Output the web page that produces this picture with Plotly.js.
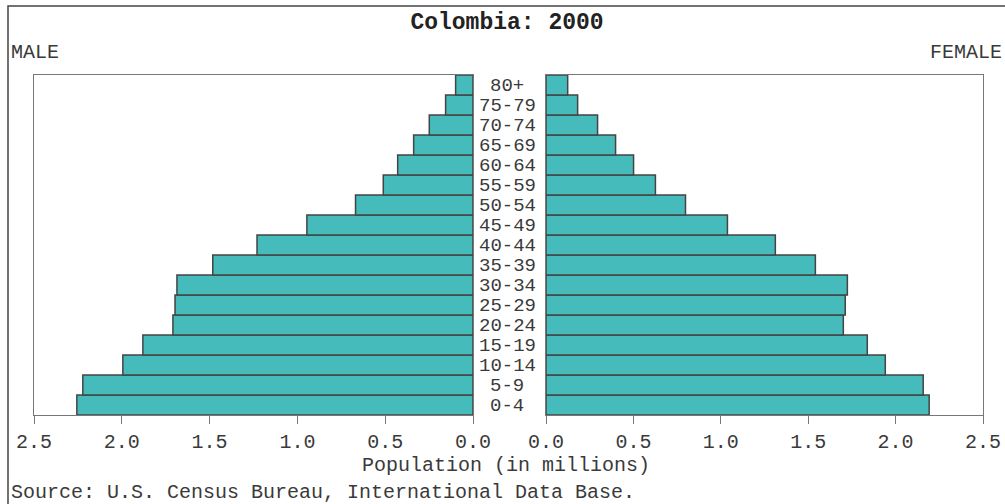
<!DOCTYPE html>
<html><head><meta charset="utf-8">
<script src="https://cdn.plot.ly/plotly-3.0.1.min.js"></script>
<style>html,body{margin:0;padding:0;background:#fff;overflow:hidden}</style>
</head><body><div id="chart" style="width:1005px;height:504px"></div>
<script>
const ageGroups = ['0-4','5-9','10-14','15-19','20-24','25-29','30-34','35-39','40-44','45-49','50-54','55-59','60-64','65-69','70-74','75-79','80+'];
const maleMillions = [2.256,2.222,1.994,1.880,1.709,1.697,1.686,1.482,1.230,0.946,0.669,0.511,0.429,0.338,0.249,0.156,0.099];
const femaleMillions = [2.192,2.158,1.941,1.838,1.701,1.712,1.724,1.541,1.312,1.038,0.798,0.626,0.501,0.398,0.295,0.181,0.124];
const tickValues = [0,0.5,1.0,1.5,2.0,2.5];
const tickLabels = ['0.0','0.5','1.0','1.5','2.0','2.5'];
const titleText = 'Colombia: 2000';
const xTitleText = 'Population (in millions)';
const sourceText = 'Source: U.S. Census Bureau, International Data Base.';

const FONT = 'Liberation Mono, DejaVu Sans Mono, monospace';
const TXT = '#3a3a3a';
const barStyle = {color:'#45BBBB', line:{color:'#444444', width:1.5}};

const traces = [
  {type:'bar', orientation:'h', x:maleMillions, y:ageGroups, xaxis:'x', yaxis:'y', marker:barStyle, hoverinfo:'skip'},
  {type:'bar', orientation:'h', x:femaleMillions, y:ageGroups, xaxis:'x2', yaxis:'y2', marker:barStyle, hoverinfo:'skip'}
];

const W = 949; // plot width in px (1005 - 34 - 22)
const xAxisCommon = {
  tickvals:tickValues, ticktext:tickLabels, ticks:'outside', ticklen:8, tickwidth:1, tickcolor:'#777',
  showline:true, linecolor:'#777', linewidth:1, mirror:true, showgrid:false, zeroline:false,
  tickfont:{family:FONT, size:20, color:TXT}, fixedrange:true
};
const yAxisCommon = {
  type:'category', range:[-0.5,16.5], showline:true, linecolor:'#777', linewidth:1, mirror:true,
  showticklabels:false, ticks:'', showgrid:false, zeroline:false, fixedrange:true
};

const annotations = ageGroups.map(a => ({
  text:a, xref:'paper', yref:'y', x:(507-34)/W, y:a, showarrow:false,
  xanchor:'center', yanchor:'middle', height:19, borderpad:0, valign:'middle',
  font:{family:FONT, size:19, color:TXT}
}));
annotations.push(
  {text:'MALE', xref:'paper', yref:'paper', x:(9-34)/W, y:1+(75-52)/340, xanchor:'left', yanchor:'middle', showarrow:false, font:{family:FONT,size:20,color:TXT}},
  {text:'FEMALE', xref:'paper', yref:'paper', x:1+(1004-983)/W, y:1+(75-52)/340, xanchor:'right', yanchor:'middle', showarrow:false, font:{family:FONT,size:20,color:TXT}},
  {text:xTitleText, xref:'paper', yref:'paper', x:(506-34)/W, y:-(466-415)/340, xanchor:'center', yanchor:'middle', showarrow:false, font:{family:FONT,size:20,color:TXT}},
  {text:sourceText, xref:'paper', yref:'paper', x:(9-34)/W, y:-(492-415)/340, xanchor:'left', yanchor:'middle', showarrow:false, font:{family:FONT,size:20,color:TXT}}
);

const layout = {
  width:1005, height:504,
  margin:{l:34, r:22, t:75, b:89, pad:0},
  paper_bgcolor:'#fff', plot_bgcolor:'#fff',
  showlegend:false, bargap:0, hovermode:false,
  title:{text:'<b>'+titleText+'</b>', font:{family:FONT, size:23, color:'#222'}, x:507/1005, xanchor:'center', xref:'container', y:1-21/504, yanchor:'middle', yref:'container'},
  xaxis:Object.assign({}, xAxisCommon, {domain:[0,(473-34)/W], range:[2.5,0], anchor:'y'}),
  xaxis2:Object.assign({}, xAxisCommon, {domain:[(546-34)/W,1], range:[0,2.5], anchor:'y2'}),
  yaxis:Object.assign({}, yAxisCommon, {anchor:'x'}),
  yaxis2:Object.assign({}, yAxisCommon, {anchor:'x2', matches:'y'}),
  annotations:annotations,
  shapes:[
    {type:'rect', xref:'paper', yref:'paper', x0:(8-34)/W, x1:1.2, y0:-0.6, y1:1+(75-6)/340, line:{color:'#444', width:1.5}, fillcolor:'rgba(0,0,0,0)', layer:'below'}
  ]
};

Plotly.newPlot('chart', traces, layout, {displayModeBar:false, staticPlot:true});
</script></body></html>
